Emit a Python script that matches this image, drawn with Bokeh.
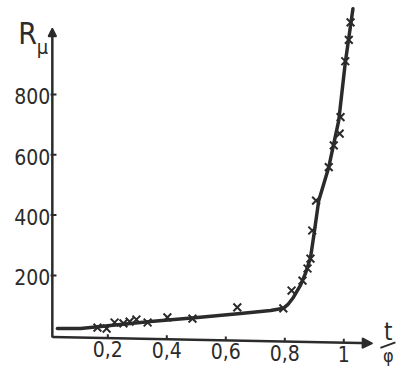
from bokeh.plotting import figure
from bokeh.models import Range1d, Label, Arrow, NormalHead
from bokeh.core.properties import value
from bokeh.embed import file_html
from bokeh.resources import INLINE
import numpy as np

# ---- data ----
curve_x = [0.029, 0.108, 0.20, 0.345, 0.504, 0.65, 0.752, 0.795, 0.81, 0.829, 0.853,
           0.87, 0.887, 0.898, 0.915, 0.949, 0.983, 1.005, 1.031]
curve_y = [24, 24, 33, 47, 61, 74, 84, 91, 103, 127, 167,
           207, 258, 330, 448, 559, 714, 905, 1084]

pts_x = [0.165, 0.196, 0.223, 0.253, 0.274, 0.297, 0.335, 0.402, 0.487, 0.639,
         0.795, 0.823, 0.860, 0.877, 0.887, 0.893, 0.906, 0.949, 0.966, 0.986,
         0.989, 1.005, 1.017, 1.023]
pts_y = [27, 24, 44, 41, 47, 54, 44, 61, 57, 94,
         91, 150, 183, 223, 256, 349, 448, 559, 631, 670,
         725, 910, 981, 1039]

x_ticks = [0.2, 0.4, 0.6, 0.8, 1.0]
x_tick_labels = ["0,2", "0,4", "0,6", "0,8", "1"]
y_ticks = [200, 400, 600, 800]
y_tick_labels = ["200", "400", "600", "800"]

# ---- style / layout ----
INK = "#2b2b2b"
FONT = "Liberation Sans Narrow, DejaVu Sans Condensed, sans-serif"
AX_X = 0.012            # position of the vertical axis
XAX = (0.012, -4.0, 1.097, -25.0)   # x-axis start/end (hand-drawn, slightly slanted)
YAX_TOP = 1019.0

p = figure(width=401, height=366,
           x_range=Range1d(-0.1637, 1.1956), y_range=Range1d(-101.8, 1111.4),
           output_backend="svg", toolbar_location=None, min_border=0)
p.axis.visible = False
p.grid.visible = False
p.outline_line_color = None
p.background_fill_color = "white"
p.border_fill_color = "white"

# axes with arrows
p.add_layout(Arrow(end=NormalHead(size=10, fill_color=INK, line_color=INK, line_width=1.5),
                   x_start=XAX[0], y_start=XAX[1], x_end=XAX[2], y_end=XAX[3],
                   line_color=INK, line_width=2.5))
p.add_layout(Arrow(end=NormalHead(size=8, fill_color=INK, line_color=INK, line_width=1.5),
                   x_start=AX_X, y_start=-6, x_end=AX_X, y_end=YAX_TOP,
                   line_color=INK, line_width=2.5))

# ticks
tick_base = np.interp(x_ticks, [XAX[0], XAX[2]], [XAX[1], XAX[3]])
p.segment(x0=x_ticks, y0=tick_base, x1=x_ticks, y1=tick_base + 13,
          line_color=INK, line_width=2)
p.segment(x0=[AX_X - 0.006] * len(y_ticks), y0=y_ticks,
          x1=[AX_X + 0.014] * len(y_ticks), y1=y_ticks,
          line_color=INK, line_width=2)

# tick labels
p.text(x=x_ticks, y=tick_base, text=x_tick_labels, text_align="center",
       text_baseline="top", y_offset=3, text_font=value(FONT),
       text_font_size="21px", text_color=INK)
p.text(x=[AX_X] * len(y_ticks), y=y_ticks, text=y_tick_labels, text_align="right",
       text_baseline="middle", x_offset=-2, y_offset=2, text_font=value(FONT),
       text_font_size="21px", text_color=INK)

# curve and measured points
p.line(curve_x, curve_y, line_color=INK, line_width=3.5, line_join="round", line_cap="round")
p.scatter(pts_x, pts_y, marker="x", size=11, line_color=INK, line_width=2)

# axis titles
p.add_layout(Label(x=-0.072, y=1002, text="R", text_align="center", text_baseline="middle",
                   text_font=FONT, text_font_size="30px", text_color=INK))
p.add_layout(Label(x=-0.021, y=956, text="μ", text_align="center", text_baseline="middle",
                   text_font=FONT, text_font_size="20px", text_color=INK))
p.add_layout(Label(x=1.151, y=11, text="t", text_align="center", text_baseline="middle",
                   text_font=FONT, text_font_size="24px", text_color=INK))
p.segment(x0=[1.124], y0=[-40], x1=[1.175], y1=[-22], line_color=INK, line_width=2)
p.add_layout(Label(x=1.151, y=-66, text="φ", text_align="center", text_baseline="middle",
                   text_font=FONT, text_font_size="18px", text_color=INK))

open("out.html", "w").write(file_html(p, INLINE))
